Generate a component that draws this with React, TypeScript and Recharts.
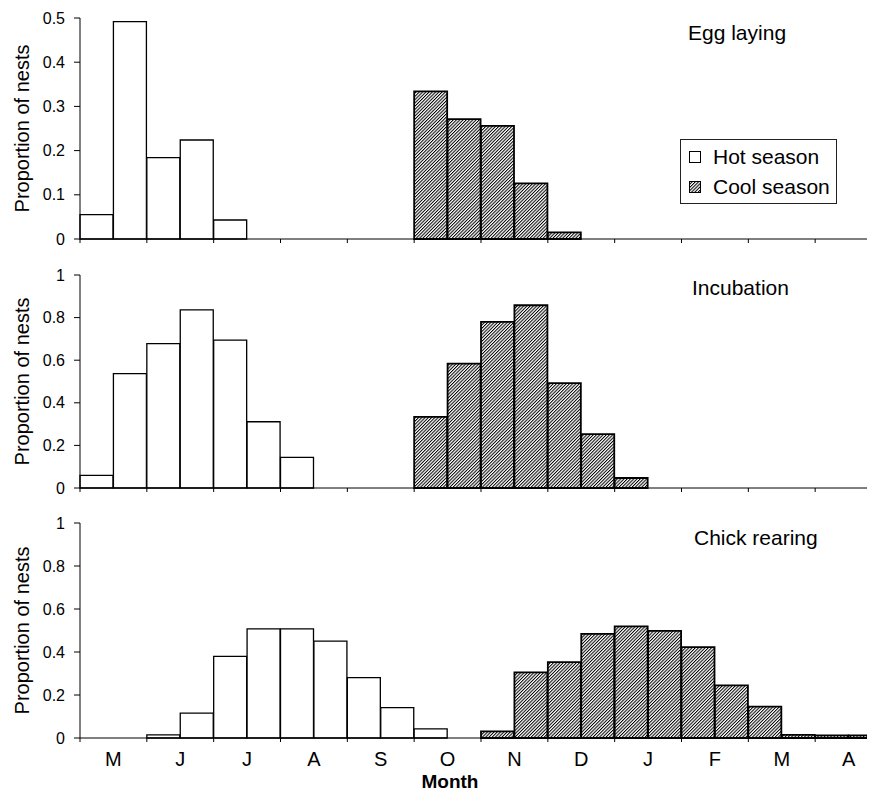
import React from 'react';
import { BarChart, Bar, XAxis, YAxis, Legend } from 'recharts';

// months on the x axis, each split into two half-month bins
const months = ['M', 'J', 'J', 'A', 'S', 'O', 'N', 'D', 'J', 'F', 'M', 'A'];
const BIN_COUNT = months.length * 2;

// Egg laying
const eggHot = [0.055, 0.492, 0.184, 0.224, 0.043];
const eggHotStart = 0;
const eggCool = [0.334, 0.271, 0.256, 0.126, 0.015];
const eggCoolStart = 10;

// Incubation
const incHot = [0.059, 0.537, 0.678, 0.836, 0.694, 0.311, 0.144];
const incHotStart = 0;
const incCool = [0.334, 0.584, 0.78, 0.858, 0.492, 0.253, 0.047];
const incCoolStart = 10;

// Chick rearing
const chickHot = [0.015, 0.116, 0.38, 0.508, 0.508, 0.451, 0.281, 0.141, 0.042];
const chickHotStart = 2;
const chickCool = [0.031, 0.305, 0.353, 0.484, 0.519, 0.498, 0.423, 0.245, 0.146, 0.015, 0.012, 0.012];
const chickCoolStart = 12;

const ticksHalf = [0, 0.1, 0.2, 0.3, 0.4, 0.5];
const ticksOne = [0, 0.2, 0.4, 0.6, 0.8, 1];

const seriesOrder = ['hot', 'cool'];

const CHART_W = 882;
const Y_W = 80;
const BIN_W = (CHART_W - Y_W) / BIN_COUNT;

// spread a run of values over the 24 bins
const buildRows = (hot: number[], hotStart: number, cool: number[], coolStart: number) =>
  Array.from({ length: BIN_COUNT }, (_, i) => ({
    bin: i,
    hot: hot[i - hotStart] ?? 0,
    cool: cool[i - coolStart] ?? 0,
  }));

const eggData = buildRows(eggHot, eggHotStart, eggCool, eggCoolStart);
const incData = buildRows(incHot, incHotStart, incCool, incCoolStart);
const chickData = buildRows(chickHot, chickHotStart, chickCool, chickCoolStart);

// tick marks sit on month boundaries, letters in the middle of each month
const MonthTick = (props: any) => {
  const { x, y, index, showLabel } = props;
  if (index % 2 !== 0) return <g />;
  const edge = x - BIN_W / 2;
  return (
    <g>
      <line x1={edge} y1={y} x2={edge} y2={y + 4} stroke="#000" strokeWidth={1} />
      {showLabel && (
        <text x={x + BIN_W / 2} y={y + 28} textAnchor="middle" fontSize={20} fill="#000">
          {months[index / 2]}
        </text>
      )}
    </g>
  );
};

const YLabel = (props: any) => {
  const { viewBox } = props;
  const cy = viewBox.y + viewBox.height / 2;
  return (
    <text x={29} y={cy} transform={`rotate(-90, 29, ${cy})`} textAnchor="middle" fontSize={20} fill="#000">
      Proportion of nests
    </text>
  );
};

// bottom chart is 296 tall; baseline near its foot
const MonthLabel = () => (
  <text x={450} y={288} textAnchor="middle" fontSize={19} fontWeight="bold" fill="#000">
    Month
  </text>
);

const Hatch = ({ id }: { id: string }) => (
  <pattern id={id} patternUnits="userSpaceOnUse" width={2.3} height={2.3} patternTransform="rotate(45)">
    <rect x={0} y={0} width={2.3} height={2.3} fill="#fff" />
    <rect x={0} y={0} width={1} height={2.3} fill="#000" />
  </pattern>
);

const renderLegend = (props: any) => {
  const items = [...(props.payload || [])].sort(
    (a: any, b: any) => seriesOrder.indexOf(a.dataKey) - seriesOrder.indexOf(b.dataKey)
  );
  return (
    <div style={{ border: '1.5px solid #222', background: '#fff', padding: '2px 6px 1px 8px', boxSizing: 'border-box', width: 157 }}>
      {items.map((entry: any) => (
        <div key={entry.dataKey} style={{ display: 'flex', alignItems: 'center', height: 30, fontSize: 21, color: '#000' }}>
          <svg width={12} height={12} style={{ flex: 'none' }}>
            <defs>
              <Hatch id="hatch-legend" />
            </defs>
            <rect
              x={0.5}
              y={0.5}
              width={11}
              height={11}
              fill={entry.dataKey === 'hot' ? '#fff' : 'url(#hatch-legend)'}
              stroke="#000"
            />
          </svg>
          <span style={{ marginLeft: 12, whiteSpace: 'nowrap' }}>{entry.value}</span>
        </div>
      ))}
    </div>
  );
};

const titleStyle: React.CSSProperties = {
  position: 'absolute',
  fontSize: 21,
  lineHeight: '21px',
  color: '#000',
  whiteSpace: 'nowrap',
};

interface PanelProps {
  id: string;
  data: any[];
  top: number;
  height: number;
  margin: { top: number; right: number; bottom: number; left: number };
  xHeight: number;
  domainMax: number;
  ticks: number[];
  showMonths?: boolean;
  withLegend?: boolean;
}

const Panel = ({ id, data, top, height, margin, xHeight, domainMax, ticks, showMonths, withLegend }: PanelProps) => (
  <div style={{ position: 'absolute', left: 0, top }}>
    <BarChart width={CHART_W} height={height} data={data} margin={margin} barCategoryGap={0} barGap={0}>
      <defs>
        <Hatch id={id} />
      </defs>
      <XAxis
        dataKey="bin"
        interval={0}
        height={xHeight}
        tickLine={false}
        tickSize={0}
        tickMargin={0}
        axisLine={{ stroke: '#000', strokeWidth: 1 }}
        tick={(p: any) => <MonthTick {...p} showLabel={showMonths} />}
        label={showMonths ? <MonthLabel /> : undefined}
      />
      <YAxis
        width={Y_W}
        domain={[0, domainMax]}
        ticks={ticks}
        interval={0}
        tickSize={6}
        tickMargin={9}
        axisLine={{ stroke: '#000', strokeWidth: 1 }}
        tickLine={{ stroke: '#000', strokeWidth: 1 }}
        tick={{ fill: '#000', fontSize: 16 }}
        label={<YLabel />}
      />
      {withLegend && (
        <Legend
          layout="horizontal"
          verticalAlign="middle"
          align="center"
          wrapperStyle={{ left: 680, top: 139, width: 157 }}
          content={renderLegend}
        />
      )}
      <Bar dataKey="hot" name="Hot season" stackId="s" fill="#fff" stroke="#000" strokeWidth={1.3} isAnimationActive={false} />
      <Bar dataKey="cool" name="Cool season" stackId="s" fill={`url(#${id})`} stroke="#000" strokeWidth={1.8} isAnimationActive={false} />
    </BarChart>
  </div>
);

export default function App() {
  return (
    <div
      style={{
        position: 'relative',
        width: 875,
        height: 796,
        margin: -8,
        overflow: 'hidden',
        background: '#fff',
        fontFamily: '"Liberation Sans", Arial, sans-serif',
      }}
    >
      <Panel
        id="hatch-egg"
        data={eggData}
        top={0}
        height={250}
        margin={{ top: 18, right: 0, bottom: 1, left: 0 }}
        xHeight={10}
        domainMax={0.5}
        ticks={ticksHalf}
        withLegend
      />
      <Panel
        id="hatch-inc"
        data={incData}
        top={250}
        height={250}
        margin={{ top: 25, right: 0, bottom: 2, left: 0 }}
        xHeight={10}
        domainMax={1}
        ticks={ticksOne}
      />
      <Panel
        id="hatch-chick"
        data={chickData}
        top={500}
        height={296}
        margin={{ top: 23, right: 0, bottom: 0, left: 0 }}
        xHeight={58}
        domainMax={1}
        ticks={ticksOne}
        showMonths
      />
      <div style={{ ...titleStyle, left: 688, top: 22 }}>Egg laying</div>
      <div style={{ ...titleStyle, left: 692, top: 277 }}>Incubation</div>
      <div style={{ ...titleStyle, left: 694, top: 527 }}>Chick rearing</div>
    </div>
  );
}
